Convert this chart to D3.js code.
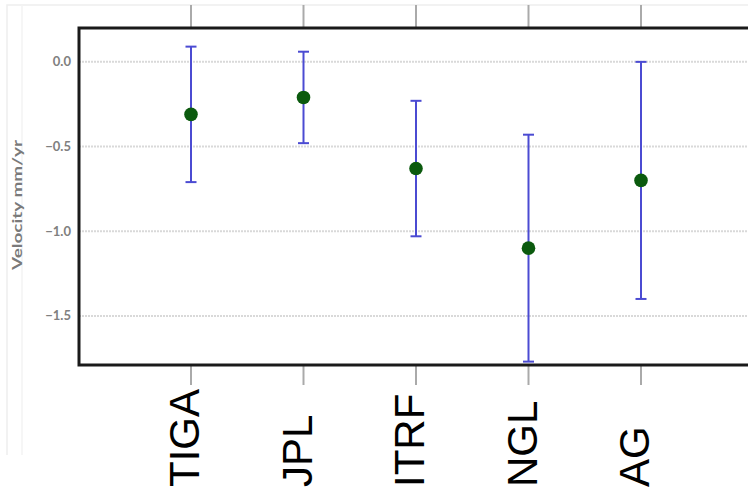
<!DOCTYPE html>
<html>
<head>
<meta charset="utf-8">
<script src="https://cdn.jsdelivr.net/npm/d3@7"></script>
<style>
  html, body { margin: 0; padding: 0; background: #fff; }
  svg { display: block; }
</style>
</head>
<body>
<svg id="chart" width="748" height="490"></svg>
<script>
// Velocity estimates per solution, with symmetric uncertainty (mm/yr)
const categories = ["TIGA", "JPL", "ITRF", "NGL", "AG"];
const velocity   = [-0.31, -0.21, -0.63, -1.10, -0.70];
const errorBar   = [0.40, 0.27, 0.40, 0.67, 0.70];
const yTicks     = [0.0, -0.5, -1.0, -1.5];
const yLabel     = "Velocity mm/yr";

const W = 748, H = 490;
const plot = { left: 79, top: 28, right: 760, bottom: 365 };

const svg = d3.select("#chart");

const x = d3.scalePoint().domain(categories).range([191, 641]);
const y = d3.scaleLinear().domain([-1.79, 0.2]).range([plot.bottom, plot.top]);

const rows = categories.map((c, i) => ({ cat: c, v: velocity[i], e: errorBar[i] }));

// faint outer frame of the figure
svg.append("path")
  .attr("d", `M7,455 V5 H${W}`)
  .attr("fill", "none").attr("stroke", "#eeeeee").attr("stroke-width", 1.5);
svg.append("line")
  .attr("x1", 22).attr("x2", 22).attr("y1", 5).attr("y2", 455)
  .attr("stroke", "#f3f3f3").attr("stroke-width", 1.5);

// category guide ticks outside the plot box (top and bottom)
const guides = svg.append("g").attr("stroke", "#aaaaaa").attr("stroke-width", 2);
guides.selectAll("line.top").data(categories).join("line")
  .attr("class", "top")
  .attr("x1", d => x(d)).attr("x2", d => x(d))
  .attr("y1", 5).attr("y2", plot.top);
guides.selectAll("line.bot").data(categories).join("line")
  .attr("class", "bot")
  .attr("x1", d => x(d)).attr("x2", d => x(d))
  .attr("y1", plot.bottom).attr("y2", 385);

// horizontal grid
svg.append("g")
  .selectAll("line").data(yTicks).join("line")
  .attr("x1", plot.left).attr("x2", W)
  .attr("y1", d => y(d)).attr("y2", d => y(d))
  .attr("stroke", "#d9d9d9").attr("stroke-width", 2)
  .attr("stroke-dasharray", "2 1");

// y axis tick labels
const fmt = d3.format(".1f");
svg.append("g")
  .selectAll("text").data(yTicks).join("text")
  .attr("x", 71).attr("y", d => y(d))
  .attr("dy", "0.35em")
  .attr("text-anchor", "end")
  .attr("font-family", "Lato, 'Open Sans', sans-serif")
  .attr("font-weight", "bold")
  .attr("font-size", 13)
  .attr("fill", "#808080")
  .text(d => fmt(d));

// y axis title
svg.append("text")
  .attr("transform", `translate(22,${(140 + 270) / 2}) rotate(-90)`)
  .attr("text-anchor", "middle")
  .attr("font-family", "Lato, 'Open Sans', sans-serif")
  .attr("font-weight", "bold")
  .attr("font-size", 14)
  .attr("fill", "#7a7a7a")
  .attr("textLength", 130)
  .attr("lengthAdjust", "spacingAndGlyphs")
  .text(yLabel);

// error bars
const eb = svg.append("g").attr("stroke", "#4b4bd2").attr("stroke-width", 2);
eb.selectAll("line.stem").data(rows).join("line")
  .attr("class", "stem")
  .attr("x1", d => x(d.cat)).attr("x2", d => x(d.cat))
  .attr("y1", d => y(d.v + d.e)).attr("y2", d => y(d.v - d.e));
eb.selectAll("line.capTop").data(rows).join("line")
  .attr("class", "capTop")
  .attr("x1", d => x(d.cat) - 5.5).attr("x2", d => x(d.cat) + 5.5)
  .attr("y1", d => y(d.v + d.e)).attr("y2", d => y(d.v + d.e));
eb.selectAll("line.capBot").data(rows).join("line")
  .attr("class", "capBot")
  .attr("x1", d => x(d.cat) - 5.5).attr("x2", d => x(d.cat) + 5.5)
  .attr("y1", d => y(d.v - d.e)).attr("y2", d => y(d.v - d.e));

// central estimates
svg.append("g")
  .selectAll("circle").data(rows).join("circle")
  .attr("cx", d => x(d.cat)).attr("cy", d => y(d.v))
  .attr("r", 6.8)
  .attr("fill", "#0b5a0e");

// plot frame
svg.append("rect")
  .attr("x", plot.left).attr("y", plot.top)
  .attr("width", plot.right - plot.left).attr("height", plot.bottom - plot.top)
  .attr("fill", "none").attr("stroke", "#1a1a1a").attr("stroke-width", 3);

// category labels, reading bottom to top
svg.append("g")
  .selectAll("text").data(categories).join("text")
  .attr("transform", d => `translate(${x(d) + 8},487) rotate(-90)`)
  .attr("text-anchor", "start")
  .attr("font-family", "'Liberation Sans', Arial, sans-serif")
  .attr("font-size", 42)
  .attr("fill", "#000")
  .text(d => d);
</script>
</body>
</html>
